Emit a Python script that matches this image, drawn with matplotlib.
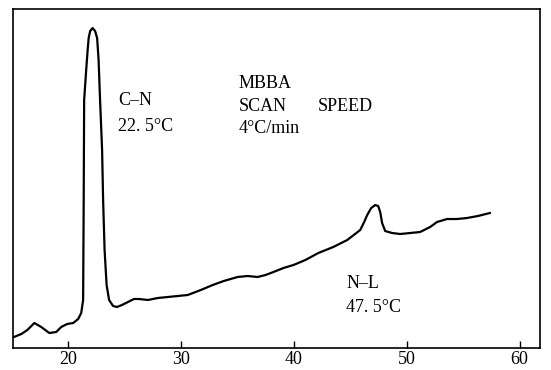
import matplotlib
matplotlib.use("Agg")
import matplotlib.pyplot as plt

plt.rcParams['font.family'] = ['Liberation Serif', 'DejaVu Serif']

# DSC trace of MBBA (temperature in °C, heat flow in arbitrary units)
temperature = [15.22, 15.87, 16.40, 17.02, 17.63, 18.34, 18.96, 19.40, 19.93, 20.46,
               20.90, 21.17, 21.34, 21.39, 21.43, 21.61, 21.74, 21.83, 21.96, 22.18,
               22.40, 22.58, 22.71, 22.84, 23.02, 23.11, 23.24, 23.42, 23.64, 23.99,
               24.34, 24.78, 25.31, 25.84, 26.28, 27.08, 27.96, 28.84, 29.73, 30.61,
               31.76, 32.82, 33.79, 35.02, 35.91, 36.79, 37.49, 38.20, 39.08, 39.97,
               41.02, 42.17, 43.49, 44.73, 45.88, 46.23, 46.50, 46.85, 47.21, 47.47,
               47.65, 47.82, 48.09, 48.71, 49.42, 50.30, 51.18, 52.07, 52.68, 53.57,
               54.45, 55.33, 56.30, 57.36]
heat_flow = [11, 14, 18, 25, 21, 15, 16, 21, 24, 25,
             29, 35, 48, 148, 248, 278, 298, 310, 317, 320,
             317, 310, 288, 248, 198, 148, 98, 63, 48, 42,
             41, 43, 46, 49, 49, 48, 50, 51, 52, 53,
             58, 63, 67, 71, 72, 71, 73, 76, 80, 83,
             88, 95, 101, 108, 118, 126, 133, 140, 143, 142,
             136, 125, 117, 115, 114, 115, 116, 121, 126, 129,
             129, 130, 132, 135]
x_ticks = [20, 30, 40, 50, 60]

fig = plt.figure(figsize=(5.51, 3.70), dpi=100)
ax = fig.add_axes([0.023, 0.0595, 0.957, 0.916])
ax.plot(temperature, heat_flow, color='black', lw=1.6)
ax.set_xlim(15.1, 61.8)
ax.set_ylim(0, 339)
ax.set_xticks(x_ticks)
ax.set_xticklabels([str(t) for t in x_ticks], fontsize=13)
ax.set_yticks([])
ax.tick_params(axis='x', direction='in', length=5, width=1, pad=2)
for s in ax.spines.values():
    s.set_linewidth(1.2)

kw = dict(fontsize=13, ha='left', va='center', color='black')
ax.text(24.43, 248, "C–N", **kw)
ax.text(24.43, 222, "22. 5°C", **kw)
ax.text(35.11, 265, "MBBA", **kw)
ax.text(35.11, 242, "SCAN", **kw)
ax.text(42.08, 242, "SPEED", **kw)
ax.text(35.11, 220, "4°C/min", **kw)
ax.text(44.64, 65, "N–L", **kw)
ax.text(44.64, 40, "47. 5°C", **kw)

fig.savefig("out.png", dpi=100)
